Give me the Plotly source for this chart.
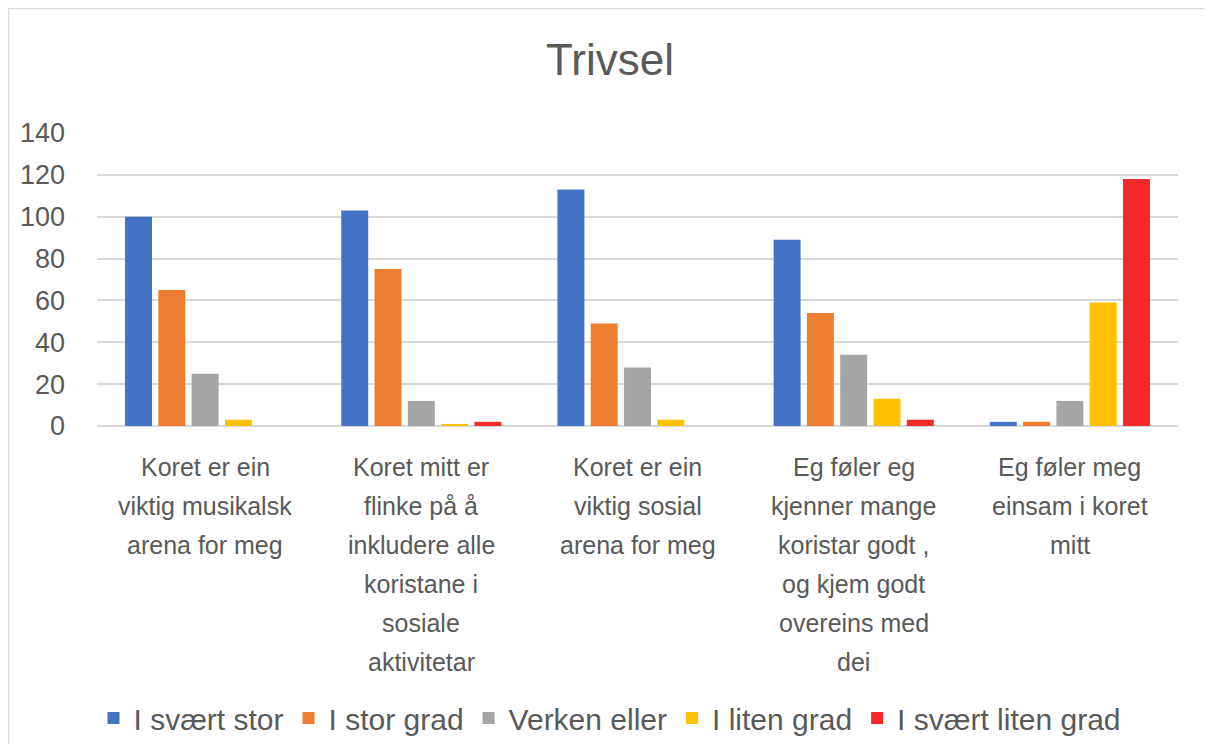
import plotly.graph_objects as go

categories = [
    "Koret er ein<br>viktig musikalsk<br>arena for meg",
    "Koret mitt er<br>flinke på å<br>inkludere alle<br>koristane i<br>sosiale<br>aktivitetar",
    "Koret er ein<br>viktig sosial<br>arena for meg",
    "Eg føler eg<br>kjenner mange<br>koristar godt ,<br>og kjem godt<br>overeins med<br>dei",
    "Eg føler meg<br>einsam i koret<br>mitt",
]
series_names = ["I svært stor", "I stor grad", "Verken eller", "I liten grad", "I svært liten grad"]
svaert_stor = [100, 103, 113, 89, 2]
stor_grad = [65, 75, 49, 54, 2]
verken_eller = [25, 12, 28, 34, 12]
liten_grad = [3, 1, 3, 13, 59]
svaert_liten = [0, 2, 0, 3, 118]
colors = ["#4472C4", "#ED7D31", "#A5A5A5", "#FFC000", "#F5282A"]
y_ticks = [0, 20, 40, 60, 80, 100, 120, 140]

FONT = "Liberation Sans"
TXT = "#595959"

fig = go.Figure()
for name, vals, col in zip(series_names,
                           [svaert_stor, stor_grad, verken_eller, liten_grad, svaert_liten],
                           colors):
    fig.add_trace(go.Bar(name=name, x=categories, y=vals, marker_color=col,
                         marker_line_width=0))

# page body has an 8px margin; figure coordinates are screen - 8
W, H = 1204, 736
L, R, T, B = 89, 34, 125, 318
PH = H - T - B
PW = W - L - R
fig.update_layout(
    width=W, height=H,
    margin=dict(l=L, r=R, t=T, b=B),
    paper_bgcolor="white", plot_bgcolor="white",
    barmode="group", bargap=0.23, bargroupgap=0.19,
    title=dict(text="Trivsel", x=0.5, xanchor="center", y=1 - 52 / H, yanchor="middle",
               font=dict(family=FONT, size=44, color=TXT)),
    font=dict(family=FONT, color=TXT),
    legend=dict(orientation="h", x=0.5, xanchor="center", xref="container",
                y=(H - 710) / H, yref="container", yanchor="middle",
                font=dict(family=FONT, size=30, color=TXT),
                itemwidth=30, traceorder="normal"),
    xaxis=dict(showgrid=False, showline=False, showticklabels=False, ticks=""),
    yaxis=dict(range=[0, 140], tickvals=y_ticks, showgrid=True, gridcolor="#D9D9D9",
               gridwidth=1.5, zeroline=True, zerolinecolor="#D9D9D9", zerolinewidth=1.5,
               showline=False, tickfont=dict(family=FONT, size=27, color=TXT),
               ticklabelstandoff=31),
    showlegend=True,
)
# category labels, one line at a time for Excel-like line spacing
for cat in categories:
    for i, line in enumerate(cat.split("<br>")):
        fig.add_annotation(x=cat, xref="x", y=0, yref="paper", text=line, showarrow=False,
                           yanchor="middle", xanchor="center", yshift=-41 - 39 * i,
                           font=dict(family=FONT, size=25, color=TXT))
# outer chart border
fig.add_shape(type="rect", xref="paper", yref="paper",
              x0=(0.5 - L) / PW, x1=(1201 - L) / PW,
              y0=-(760 - 418) / PH, y1=(418 - 0.5) / PH,
              line=dict(color="#D9D9D9", width=1.5), fillcolor="rgba(0,0,0,0)", layer="below")
fig.write_html("out.html")
